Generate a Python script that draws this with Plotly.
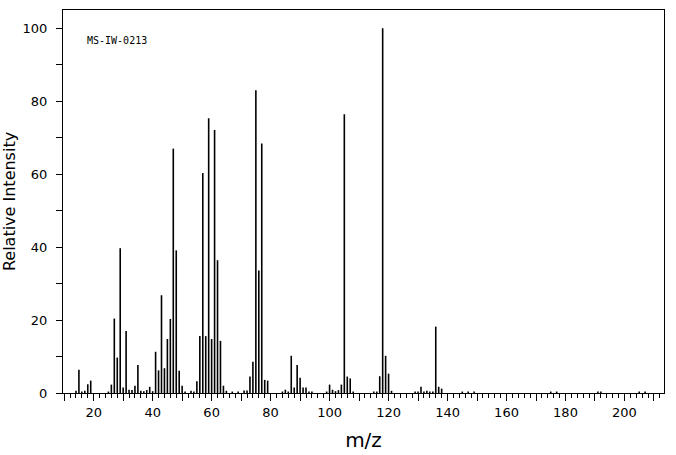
import plotly.graph_objects as go

mz = [14, 15, 16, 17, 18, 19, 25, 26, 27, 28, 29, 30, 31, 32, 33, 34, 35, 36, 37, 38, 39, 40,
      41, 42, 43, 44, 45, 46, 47, 48, 49, 50, 51, 53, 54, 55, 56, 57, 58, 59, 60, 61, 62, 63,
      64, 65, 67, 69, 71, 72, 73, 74, 75, 76, 77, 78, 79, 84, 85, 86, 87, 88, 89, 90, 91, 92,
      93, 94, 99, 100, 101, 102, 103, 104, 105, 106, 107, 108, 115, 116, 117, 118, 119, 120,
      121, 129, 130, 131, 132, 133, 134, 135, 136, 137, 138, 145, 147, 149, 175, 177, 191,
      192, 205, 207]
intensity = [0.6, 6.4, 0.4, 0.6, 2.4, 3.4, 0.4, 2.3, 20.4, 9.7, 39.7, 1.5, 17.0, 0.9, 0.8, 2.0,
             7.7, 0.6, 0.5, 0.8, 1.7, 0.5, 11.3, 6.2, 26.8, 6.8, 14.8, 20.3, 67.0, 39.1, 6.1,
             2.0, 0.4, 0.6, 0.4, 3.2, 15.6, 60.3, 15.6, 75.3, 14.8, 72.1, 36.4, 14.3, 2.0, 0.6,
             0.4, 0.4, 0.7, 0.7, 4.5, 8.6, 83.0, 33.6, 68.4, 3.6, 3.4, 0.4, 0.9, 0.4, 10.2, 1.5,
             7.7, 4.2, 1.5, 1.5, 0.4, 0.4, 0.4, 2.3, 0.9, 0.5, 0.8, 2.3, 76.4, 4.5, 4.0, 0.4,
             0.4, 0.4, 4.6, 100.0, 10.2, 5.3, 0.6, 0.4, 0.4, 1.7, 0.4, 0.6, 0.4, 0.4, 18.2, 1.7,
             1.2, 0.4, 0.4, 0.4, 0.4, 0.4, 0.4, 0.4, 0.4, 0.4]

x_tick_vals = list(range(10, 211, 10))
x_tick_text = [str(v) if v % 20 == 0 else "" for v in x_tick_vals]
y_tick_vals = list(range(0, 101, 10))
y_tick_text = [str(v) if v % 20 == 0 else "" for v in y_tick_vals]

xs, ys = [], []
for m, v in zip(mz, intensity):
    xs += [m, m, None]
    ys += [0, v, None]

fig = go.Figure()
fig.add_trace(go.Scatter(x=xs, y=ys, mode="lines",
                         line=dict(color="black", width=1.6),
                         hoverinfo="skip", showlegend=False))

fig.update_layout(
    width=676, height=455,
    margin=dict(l=63, r=12, t=10, b=62),
    paper_bgcolor="white", plot_bgcolor="white",
    font=dict(family="DejaVu Sans", size=13, color="black"),
    xaxis=dict(range=[9.6, 213.4], showgrid=False, zeroline=False, automargin=False,
               showline=True, linecolor="black", linewidth=1, mirror=True,
               tickmode="array", tickvals=x_tick_vals, ticktext=x_tick_text,
               ticks="outside", ticklen=7, tickwidth=1, tickcolor="black",
               minor=dict(dtick=2, tick0=0, ticks="outside", ticklen=4,
                          tickwidth=1, tickcolor="black", showgrid=False),
               title=dict(text="m/z", font=dict(size=20), standoff=14)),
    yaxis=dict(range=[0, 105], showgrid=False, zeroline=False, automargin=False,
               showline=True, linecolor="black", linewidth=1, mirror=True,
               tickmode="array", tickvals=y_tick_vals, ticktext=y_tick_text,
               ticks="outside", ticklen=6, tickwidth=1, tickcolor="black",
               ticklabelstandoff=6,
               title=dict(text="Relative Intensity", font=dict(size=16), standoff=6)),
    annotations=[dict(text="MS-IW-0213", xref="paper", yref="paper",
                      x=0.036, y=0.92, xanchor="left", yanchor="middle",
                      showarrow=False,
                      font=dict(family="DejaVu Sans Mono", size=10, color="black"))],
)

fig.write_html("out.html")
